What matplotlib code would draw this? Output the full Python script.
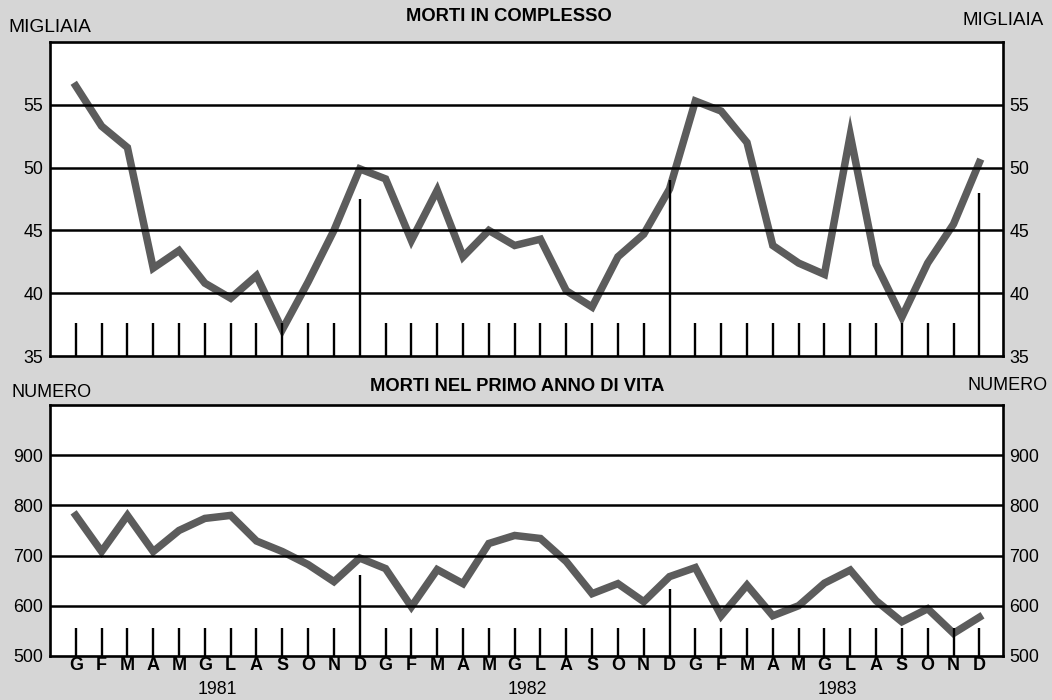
import matplotlib.pyplot as plt

plt.rcParams['font.family'] = ['Liberation Sans', 'DejaVu Sans']

# month initials (Italian), three years 1981-1983
month_letters = ["G", "F", "M", "A", "M", "G", "L", "A", "S", "O", "N", "D"] * 3
years = ["1981", "1982", "1983"]

# deaths overall, thousands
deaths_total = [56.5, 53.3, 51.6, 42.0, 43.4, 40.8, 39.6, 41.4, 37.1, 40.9, 45.0, 49.9,
                49.1, 44.2, 48.2, 42.9, 45.0, 43.8, 44.3, 40.2, 38.9, 42.9, 44.7, 48.3,
                55.3, 54.5, 52.0, 43.8, 42.4, 41.5, 52.6, 42.3, 38.1, 42.4, 45.5, 50.4]

# deaths in the first year of life, number
deaths_infant = [780, 708, 780, 708, 750, 774, 780, 729, 708, 682, 648, 695,
                 674, 598, 672, 644, 724, 740, 734, 688, 624, 644, 608, 658,
                 676, 580, 641, 580, 600, 645, 671, 610, 568, 594, 545, 577]

# heights of the year-end marker lines
year_marks_top = [47.5, 49.0, 48.0]
year_marks_bottom = [662, 633, 556]

bg = "#d6d6d6"
line_col = "#5c5c5c"

fig = plt.figure(figsize=(10.52, 7.0), dpi=100, facecolor=bg)
ax1 = fig.add_axes([0.0475, 0.4914, 0.9055, 0.4486])
ax2 = fig.add_axes([0.0475, 0.063, 0.9055, 0.3584])

x = list(range(len(month_letters)))


def setup(ax, ylim, ticks, short_top, year_marks, values):
    ax.set_xlim(-1, 35.9)
    ax.set_ylim(*ylim)
    ax.set_facecolor("white")
    for s in ax.spines.values():
        s.set_linewidth(1.9)
        s.set_color("black")
    ax.plot(x, values, color=line_col, linewidth=5.4, solid_joinstyle="miter", zorder=2)
    for t in ticks[1:]:
        ax.axhline(t, color="black", linewidth=1.8, zorder=3)
    # small month ticks, long ones at each December
    for i in x:
        top = short_top
        if i % 12 == 11:
            top = year_marks[i // 12]
        ax.vlines(i, ylim[0], top, color="black", linewidth=1.7, zorder=3)
    ax.set_xticks([])
    ax.set_yticks(ticks)
    ax.tick_params(axis="y", length=0, labelsize=12.8, pad=5,
                   left=True, right=True, labelleft=True, labelright=True)


setup(ax1, (35, 60), [35, 40, 45, 50, 55], 37.6, year_marks_top, deaths_total)
setup(ax2, (500, 1000), [500, 600, 700, 800, 900], 556, year_marks_bottom, deaths_infant)

ax1.set_title("MORTI IN COMPLESSO", fontsize=13.2, fontweight="bold", x=0.482, pad=15)
ax2.set_title("MORTI NEL PRIMO ANNO DI VITA", fontsize=13.2, fontweight="bold", x=0.49, pad=10)

fig.text(0.008, 0.961, "MIGLIAIA", fontsize=13.8, ha="left", va="center")
fig.text(0.992, 0.971, "MIGLIAIA", fontsize=13.5, ha="right", va="center")
fig.text(0.011, 0.439, "NUMERO", fontsize=13, ha="left", va="center")
fig.text(0.996, 0.450, "NUMERO", fontsize=13, ha="right", va="center")

for i, m in enumerate(month_letters):
    ax2.text(i, -0.04, m, transform=ax2.get_xaxis_transform(), fontsize=13,
             fontweight="bold", ha="center", va="center")
for k, yr in enumerate(years):
    ax2.text(12 * k + 5.5, -0.135, yr, transform=ax2.get_xaxis_transform(),
             fontsize=12.8, ha="center", va="center")

fig.savefig("out.png", dpi=100, facecolor=bg)
